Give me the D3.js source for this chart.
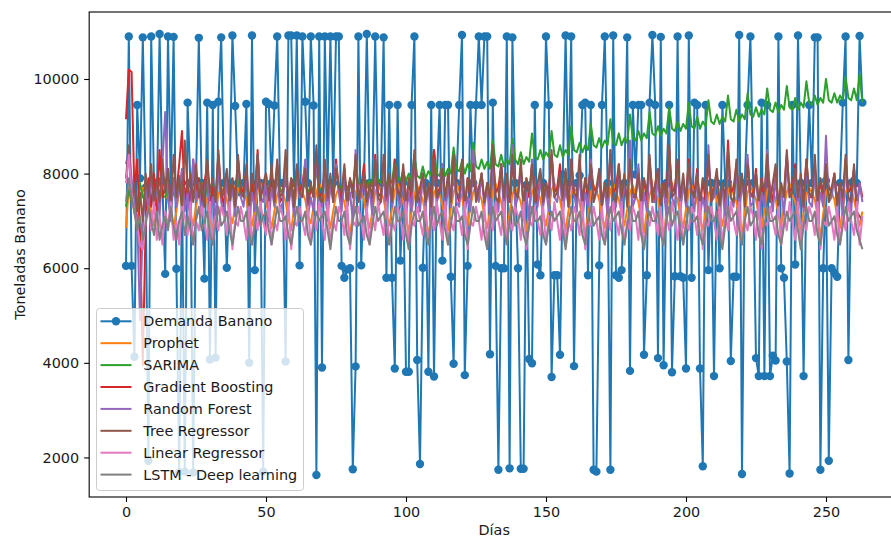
<!DOCTYPE html>
<html>
<head>
<meta charset="utf-8">
<script src="https://cdn.jsdelivr.net/npm/d3@7"></script>
<style>
  html, body { margin: 0; padding: 0; background: #fff; }
  svg { display: block; font-family: "DejaVu Sans", sans-serif; }
</style>
</head>
<body>
<svg id="chart" width="891" height="538"></svg>
<script>
// Daily banana demand (tonnes)
const demanda = [
  6050,10900,6050,4130,9450,7900,10880,7700,1930,10900,
  7800,7400,10950,7800,5880,10900,7700,10890,5990,1690,
  7800,1700,9500,7800,1680,7800,10870,7800,5780,9500,
  4070,9450,4110,9520,10880,7800,6010,7800,10920,9430,
  7800,7600,7800,9470,4000,10920,5960,7800,7800,1700,
  9520,9470,7800,9440,10900,7800,7800,4030,10920,10920,
  7800,10920,6060,10900,9520,7800,10900,9440,1630,10900,
  3900,10900,7800,10900,7800,10900,10900,6050,5800,5970,
  6000,1750,3925,10900,6060,7800,10950,7800,7800,10900,
  7800,7800,10880,5800,9450,5800,3880,9450,6160,7800,
  3810,3810,9450,10900,4060,1860,6010,7800,3810,9450,
  3710,7800,9450,6160,9450,9450,5820,3980,7800,9450,
  10930,3740,6050,9450,7800,9450,10900,9450,10900,10900,
  4180,9500,6050,1740,6000,6000,10900,1770,10880,7800,
  6000,1760,1760,7760,4080,3990,9450,6080,5850,7800,
  10900,9450,3700,5850,5850,4170,7980,10920,7800,10900,
  3930,7800,7960,9450,9500,5850,9450,1740,1700,6060,
  9450,10900,7800,1740,10920,5850,5800,5960,7800,10880,
  3830,9450,7980,9450,9450,4170,5850,9500,10930,9450,
  4100,10890,3950,7800,9450,3800,5830,10900,5830,5800,
  3880,10920,5800,9500,9450,3880,1815,9450,5960,7800,
  3720,7800,6000,9450,7800,7800,4040,5820,5820,10930,
  1650,7800,9450,10900,7800,4100,3720,9500,3720,9450,
  3720,4150,4050,10900,6000,5800,4030,1660,9450,6080,
  10920,7800,3720,7800,9450,7800,10880,10880,1740,6000,
  7850,1930,6000,5900,5820,7800,9500,10900,4060,7800,
  7850,7800,10910,9500
];

// Prophet forecast
const prophet = [
  6850,7700,7550,7150,6950,7350,7700, 7650,7500,7200,6900,7250,7600,7750,
  7600,7450,7100,6850,7200,7650,7700, 7700,7500,7150,6900,7300,7600,7800,
  7550,7400,7050,6800,7200,7550,7700, 7650,7450,7150,6950,7300,7650,7750,
  7600,7450,7100,6900,7250,7600,7800, 7650,7400,7150,6850,7200,7550,7700,
  7600,7400,7050,6800,7250,7650,7750, 7600,7450,7100,6950,7300,7600,7800,
  7650,7500,7150,6850,7200,7550,7700, 7550,7400,7050,6700,7150,7600,7750,
  7600,7450,7100,6850,7200,7600,7750, 7650,7450,7150,6900,7250,7650,7800,
  7600,7400,7050,6750,7200,7550,7750, 7600,7450,7100,6650,7150,7600,7700,
  7550,7350,7000,6800,7250,7600,7800, 7650,7500,7150,6900,7300,7600,7750,
  7600,7450,7100,6850,7200,7650,7800, 7600,7400,7000,6650,7200,7550,7700,
  7550,7400,7050,6800,7250,7600,7750, 7650,7450,7150,6900,7250,7650,7800,
  7600,7450,7100,6800,7200,7550,7700, 7600,7400,7050,6700,7150,7600,7750,
  7650,7450,7100,6850,7250,7650,7800, 7600,7450,7150,6900,7250,7600,7750,
  7550,7400,7050,6750,7200,7550,7700, 7650,7450,7100,6650,7150,7600,7800,
  7600,7450,7100,6850,7250,7650,7750, 7600,7400,7050,6800,7200,7550,7700,
  7650,7450,7150,6900,7250,7600,7800, 7550,7400,7050,6700,7150,7600,7750,
  7600,7450,7100,6850,7200,7650,7750, 7650,7450,7150,6900,7300,7600,7800,
  7550,7400,7050,6750,7200,7550,7700, 7600,7450,7100,6650,7150,7600,7750,
  7600,7450,7100,6850,7250,7600,7750, 7650,7450,7150,6900,7200
];

// SARIMA forecast
const sarima = [
  7300,7650,7400,7550,7350,7800,7500, 7450,7600,7400,7700,7500,7900,7550,
  7500,7650,7450,7600,7450,7950,7550, 7500,7700,7450,7600,7450,7900,7600,
  7500,7700,7500,7650,7450,8000,7600, 7550,7700,7500,7650,7500,7950,7600,
  7550,7750,7500,7700,7500,8000,7650, 7600,7750,7550,7700,7550,8050,7650,
  7600,7800,7600,7700,7550,8100,7700, 7650,7800,7600,7750,7600,8100,7700,
  7650,7850,7650,7800,7650,8150,7750, 7700,7900,7650,7850,7700,8200,7800,
  7750,7950,7700,7850,7750,8250,7850, 7800,8000,7750,7900,7800,8300,7900,
  7850,8050,7850,8000,7850,8400,7950, 7900,8150,7900,8050,7950,8500,8000,
  7950,8200,7950,8100,8000,8550,8100, 8050,8250,8000,8200,8050,8650,8150,
  8100,8300,8100,8250,8100,8700,8200, 8150,8400,8150,8300,8200,8750,8300,
  8200,8450,8200,8350,8250,8850,8350, 8300,8500,8300,8450,8350,8900,8400,
  8350,8600,8350,8500,8400,9000,8500, 8450,8650,8450,8600,8500,9050,8600,
  8550,8750,8550,8700,8600,9150,8650, 8600,8850,8600,8750,8650,9250,8750,
  8700,8900,8700,8850,8750,9300,8850, 8800,9000,8800,8950,8850,9400,8950,
  8900,9100,8900,9050,8950,9500,9000, 8950,9200,8950,9100,9000,9550,9100,
  9050,9250,9050,9200,9100,9650,9150, 9100,9350,9100,9250,9150,9700,9250,
  9200,9400,9200,9350,9250,9800,9350, 9300,9500,9300,9450,9350,9850,9400,
  9350,9600,9350,9500,9400,9950,9500, 9450,9650,9450,9600,9500,10000,9550,
  9500,9700,9500,9650,9550,10050,9600, 9550,9800,9550,10100,9500
];

// Gradient Boosting forecast
const gradientBoosting = [
  9150,10200,10150,7600,8300,6800,3950, 6900,7900,7300,8000,7200,8500,7500,
  7700,8100,7300,7900,7600,8200,8900, 7400,7800,7200,8300,7600,7900,7400,
  7800,8200,7300,7700,7500,8400,7600, 7300,8000,7400,7900,7500,8300,7700,
  7600,8100,7200,7800,7400,8500,7500, 7700,8000,7300,7800,7600,8200,7400,
  7500,8300,7400,7900,7300,8100,7600, 7800,8200,7300,7700,7500,8400,7500,
  7600,8000,7200,7800,7500,8300,7700, 7400,8100,7300,7900,7600,8200,7500,
  7700,8200,7400,7700,7300,8400,7600, 7500,8000,7300,7800,7500,8300,7600,
  7600,8100,7300,7900,7400,8200,7700, 7300,8000,7400,7700,7600,8500,7500,
  7700,8200,7300,7800,7500,8300,7600, 7400,8100,7200,7900,7500,8200,7700,
  7500,8000,7400,7800,7300,8400,7600, 7700,8200,7300,7700,7400,8300,7500,
  7600,8100,7300,7900,7500,8200,7700, 7400,8000,7400,7800,7600,8400,7600,
  7700,8200,7200,7700,7400,8300,7500, 7500,8100,7300,7900,7500,8200,7700,
  7600,8000,7400,7800,7300,8400,7600, 7700,8200,7300,7700,7500,8300,7500,
  7500,8100,7300,7900,7400,8200,7700, 7400,8000,7400,7800,7600,8500,7600,
  7700,8200,7300,7800,7500,8300,7600, 7600,8100,7200,7900,7400,8200,7700,
  7500,8000,7400,7700,7300,8700,7600, 7700,8200,7300,7800,7500,8300,7500,
  7600,8100,7300,7900,7400,8200,7700, 7400,8000,7400,7700,7600,8400,7600,
  7700,8200,7200,7800,7500,8300,7500, 7500,8100,7300,7900,7400,8200,7700,
  7600,8000,7400,7800,7300,8300,7600, 7700,8100,7300,7800,7500
];

// Random Forest forecast
const randomForest = [
  8200,8500,7900,7400,7100,4900,6900, 7800,7200,8000,7300,7700,7100,8200,
  9300,7500,7000,7900,7300,7700,8100, 7200,7600,7000,8300,7400,7800,7100,
  7600,8100,7200,7500,7000,8200,7400, 7100,7900,7300,7700,7100,8300,7500,
  7300,8000,7100,7600,7200,8400,7500, 7400,7900,7000,7700,7300,8100,7200,
  7400,8200,7300,7700,7100,8000,7500, 7600,8300,7100,7500,7200,8400,7400,
  7300,8100,7000,7800,7400,8200,7600, 7200,7900,7300,7600,7000,8500,7400,
  7500,8000,7200,7700,7100,8300,7300, 7400,8100,7100,7800,7300,8200,7500,
  7300,7900,7100,7600,7200,8400,7500, 7200,8000,7300,7700,7100,8300,7400,
  7600,8200,7000,7800,7300,8100,7400, 7300,7900,7200,7500,7200,8500,7600,
  7400,8000,7300,7700,7100,8300,7500, 7200,8200,7100,7800,7400,8600,7300,
  7500,8100,7200,7600,7000,8300,7400, 7300,7900,7300,7700,7200,8400,7500,
  7400,8000,7100,7800,7300,8200,7600, 7200,8100,7000,7600,7300,8300,7400,
  7600,7900,7300,7700,7100,8500,7500, 7300,8000,7200,7800,7400,8700,7300,
  7500,8200,7100,7600,7200,8300,7400, 7400,7900,7300,7700,7100,8400,7500,
  7300,8100,7200,7800,7300,8200,7600, 7200,8000,7100,7500,7200,8600,7400,
  7500,7900,7300,7700,7000,8300,7500, 7300,8200,7200,7800,7400,8400,7300,
  7400,8000,7100,7600,7300,8500,7600, 7200,7900,7300,7700,7100,8300,7500,
  7600,8100,7200,7800,7200,8200,7400, 7300,8000,7100,7600,7300,8800,7400,
  7500,7900,7300,7700,7100,8300,7500, 7200,8100,7200,7800,7400
];

// Tree Regressor forecast
const treeRegressor = [
  7900,8600,7400,7800,7200,7600,7000, 8000,7500,8200,7300,7900,7400,8300,
  7600,8100,7300,8400,7500,7900,7200, 8700,7600,8000,7400,8200,7500,7800,
  7300,8300,7600,7900,7400,8500,7500, 7700,8100,7400,7900,7300,8400,7600,
  7500,8200,7300,8000,7600,8400,7400, 7800,8000,7500,8200,7400,8300,7500,
  7600,8500,7400,7900,7300,8200,7600, 7500,8100,7400,7800,7500,8600,7500,
  7400,8300,7500,8000,7400,8100,7700, 7600,8200,7300,7900,7500,8400,7400,
  7700,8000,7400,7800,7500,8300,7500, 7400,8400,7500,8000,7400,8200,7600,
  7500,8200,7300,7900,7600,8500,7400, 7700,8000,7400,7800,7300,8300,7500,
  7600,8100,7500,8000,7400,8400,7600, 7500,8300,7300,7900,7600,8200,7400,
  7700,8000,7400,7800,7500,8600,7500, 7400,8200,7500,8000,7400,8400,7600,
  7500,8300,7300,7900,7600,8200,7400, 7800,8100,7400,7800,7500,8500,7500,
  7600,8000,7500,8100,7300,8300,7600, 7500,8400,7400,7900,7600,8200,7400,
  7700,8100,7300,7800,7500,8500,7500, 7400,8200,7500,8000,7300,8300,7600,
  7500,8000,7400,7900,7600,8400,7400, 7800,8100,7300,7800,7500,8600,7500,
  7600,8300,7500,8000,7400,8200,7600, 7500,8000,7400,7900,7600,8400,7400,
  7700,8100,7300,7800,7500,8500,7500, 7400,8300,7500,8000,7300,8200,7600,
  7500,8000,7400,7900,7600,8400,7400, 7800,8200,7300,7800,7500,8500,7500,
  7600,8100,7500,8000,7300,8300,7600, 7500,8400,7400,7900,7600,8200,7400,
  7700,8000,7300,7800,7500,8400,7500, 7400,8200,7200,7100,7000
];

// Linear Regressor forecast
const linearRegressor = [
  7800,8400,7600,7200,6900,6500,6400, 7000,7300,6800,7400,6600,7100,6500,
  7200,6900,7400,6600,7000,6500,7300, 7100,6700,7400,6500,7000,6800,7300,
  7000,6600,7400,6500,7100,6800,7300, 7100,6700,7400,6400,7000,6900,7300,
  7000,6600,7300,6500,7100,6800,7400, 7000,6700,7400,6500,7000,6800,7300,
  7100,6600,7400,6400,7000,6900,7300, 7000,6700,7300,6500,7100,6800,7400,
  7000,6600,7400,6500,7000,6800,7300, 7100,6700,7400,6400,7000,6900,7300,
  7000,6600,7300,6500,7100,6800,7400, 7000,6700,7400,6500,7000,6800,7300,
  7100,6600,7400,6400,7000,6900,7300, 7000,6700,7300,6500,7100,6800,7400,
  7000,6600,7400,6500,7000,6800,7300, 7100,6700,7400,6400,7000,6900,7300,
  7000,6600,7300,6500,7100,6800,7400, 7000,6700,7400,6500,7000,6800,7300,
  7100,6600,7400,6400,7000,6900,7300, 7000,6700,7300,6500,7100,6800,7400,
  7000,6600,7400,6500,7000,6800,7300, 7100,6700,7400,6400,7000,6900,7300,
  7000,6600,7300,6500,7100,6800,7400, 7000,6700,7400,6500,7000,6800,7300,
  7100,6600,7400,6400,7000,6900,7300, 7000,6700,7300,6500,7100,6800,7400,
  7000,6600,7400,6500,7000,6800,7300, 7100,6700,7400,6400,7000,6900,7300,
  7000,6600,7300,6500,7100,6800,7400, 7000,6700,7400,6500,7000,6800,7300,
  7100,6600,7400,6400,7000,6900,7300, 7000,6700,7300,6500,7100,6800,7400,
  7000,6600,7400,6500,7000,6800,7300, 7100,6700,7400,6400,7000,6900,7300,
  7000,6600,7300,6500,7100,6800,7400, 7000,6700,7400,6500,7100
];

// LSTM forecast
const lstm = [
  7400,7900,7500,7200,6800,7100,6600, 6900,7300,7000,6700,7200,6600,6900,
  7100,6800,7300,6900,6600,7000,7200, 6700,7100,6800,6500,7000,7300,6800,
  7000,7200,6700,6500,6900,7300,6900, 7000,7200,6800,6500,6900,7300,7000,
  7000,7200,6700,6500,6900,7300,6900, 7100,7200,6800,6500,6900,7300,7000,
  7000,7100,6700,6500,6900,7300,7000, 7000,7200,6700,6500,6900,7200,7000,
  7100,7200,6800,6400,6900,7300,7000, 7000,7200,6700,6500,7000,7300,6900,
  7000,7100,6700,6500,6900,7300,7000, 7100,7200,6800,6500,6900,7300,7000,
  7000,7200,6700,6400,6900,7200,7000, 7000,7200,6700,6500,7000,7300,6900,
  7100,7200,6800,6500,6900,7300,7000, 7000,7100,6700,6500,6900,7300,7000,
  7000,7200,6700,6400,6900,7300,7000, 7100,7200,6800,6500,7000,7300,6900,
  7000,7200,6700,6500,6900,7300,7000, 7000,7100,6700,6500,6900,7200,7000,
  7100,7200,6800,6400,6900,7300,7000, 7000,7200,6700,6500,7000,7300,6900,
  7000,7100,6700,6500,6900,7300,7000, 7100,7200,6800,6500,6900,7300,7000,
  7000,7200,6700,6400,6900,7200,7000, 7000,7200,6700,6500,7000,7300,6900,
  7100,7200,6800,6500,6900,7300,7000, 7000,7100,6700,6500,6900,7300,7000,
  7000,7200,6700,6400,6900,7300,7000, 7100,7200,6800,6500,7000,7300,6900,
  7000,7200,6700,6500,6900,7300,7000, 7000,7100,6700,6500,6900,7200,7000,
  7100,7200,6800,6400,6900,7300,7000, 7000,7200,6700,6500,7000,7300,6900,
  7000,7100,6700,6500,6900,7300,7000, 7100,7200,6800,6600,6400
];

const seriesNames = ["Demanda Banano", "Prophet", "SARIMA", "Gradient Boosting",
                     "Random Forest", "Tree Regressor", "Linear Regressor", "LSTM - Deep learning"];
const seriesColors = ["#1f77b4", "#ff7f0e", "#2ca02c", "#d62728",
                      "#9467bd", "#8c564b", "#e377c2", "#7f7f7f"];
const xTicks = [0, 50, 100, 150, 200, 250];
const yTicks = [2000, 4000, 6000, 8000, 10000];

const allSeries = [demanda, prophet, sarima, gradientBoosting, randomForest,
                   treeRegressor, linearRegressor, lstm];

const svg = d3.select("#chart");
const W = 891, H = 538;
svg.append("rect").attr("width", W).attr("height", H).attr("fill", "#fff");

// Axes frame: x runs past the right edge of the figure
const n = demanda.length;
const x = d3.scaleLinear().domain([0, n - 1]).range([126, 862.4]);
const xPad = (n - 1) * 0.05;
const frameL = x(-xPad), frameR = x(n - 1 + xPad);
const frameT = 12, frameB = 497;

const [lo, hi] = d3.extent(allSeries.flat());
const yPad = (hi - lo) * 0.05;
const y = d3.scaleLinear().domain([lo - yPad, hi + yPad]).range([frameB, frameT]);

svg.append("clipPath").attr("id", "plotclip")
  .append("rect").attr("x", frameL).attr("y", frameT)
  .attr("width", frameR - frameL).attr("height", frameB - frameT);

const plot = svg.append("g").attr("clip-path", "url(#plotclip)");
const line = d3.line().x((d, i) => x(i)).y(d => y(d));

allSeries.forEach((s, k) => {
  plot.append("path")
    .datum(s)
    .attr("fill", "none")
    .attr("stroke", seriesColors[k])
    .attr("stroke-width", 2)
    .attr("stroke-linejoin", "round")
    .attr("d", line);
  if (k === 0) {
    plot.append("g").selectAll("circle")
      .data(s)
      .join("circle")
      .attr("cx", (d, i) => x(i))
      .attr("cy", d => y(d))
      .attr("r", 4.2)
      .attr("fill", seriesColors[0]);
  }
});

// Axes
const fontSize = "14.4px";
const xAxis = svg.append("g")
  .attr("transform", `translate(0,${frameB})`)
  .call(d3.axisBottom(x).tickValues(xTicks).tickSize(5).tickPadding(5).tickFormat(d3.format("d")));
const yAxis = svg.append("g")
  .attr("transform", `translate(${frameL},0)`)
  .call(d3.axisLeft(y).tickValues(yTicks).tickSize(5).tickPadding(5).tickFormat(d3.format("d")));
[xAxis, yAxis].forEach(a => {
  a.select(".domain").remove();
  a.selectAll(".tick line").attr("stroke", "#000").attr("stroke-width", 1.1);
  a.selectAll(".tick text").attr("fill", "#1a1a1a")
    .style("font-size", fontSize).style("font-family", "DejaVu Sans, sans-serif");
});

svg.append("rect")
  .attr("x", frameL).attr("y", frameT)
  .attr("width", frameR - frameL).attr("height", frameB - frameT)
  .attr("fill", "none").attr("stroke", "#000").attr("stroke-width", 1.1);

svg.append("text")
  .attr("x", (frameL + frameR) / 2).attr("y", 535)
  .attr("text-anchor", "middle").attr("fill", "#1a1a1a")
  .style("font-size", fontSize).text("Días");

svg.append("text")
  .attr("transform", `translate(20,${(frameT + frameB) / 2}) rotate(-90)`)
  .attr("text-anchor", "middle").attr("dy", "0.35em").attr("fill", "#1a1a1a")
  .style("font-size", fontSize).text("Toneladas Banano");

// Legend
const lg = svg.append("g").attr("transform", "translate(96.5,308.5)");
lg.append("rect")
  .attr("width", 207).attr("height", 182).attr("rx", 3)
  .attr("fill", "#fff").attr("fill-opacity", 0.8)
  .attr("stroke", "#cccccc").attr("stroke-width", 1);
seriesNames.forEach((name, k) => {
  const cy = 12.8 + k * 21.9;
  lg.append("line")
    .attr("x1", 4).attr("x2", 35).attr("y1", cy).attr("y2", cy)
    .attr("stroke", seriesColors[k]).attr("stroke-width", 2);
  if (k === 0) {
    lg.append("circle").attr("cx", 19.5).attr("cy", cy).attr("r", 4.2).attr("fill", seriesColors[0]);
  }
  lg.append("text")
    .attr("x", 46.8).attr("y", cy).attr("dy", "0.36em")
    .attr("fill", "#1a1a1a").style("font-size", fontSize)
    .text(name);
});
</script>
</body>
</html>
